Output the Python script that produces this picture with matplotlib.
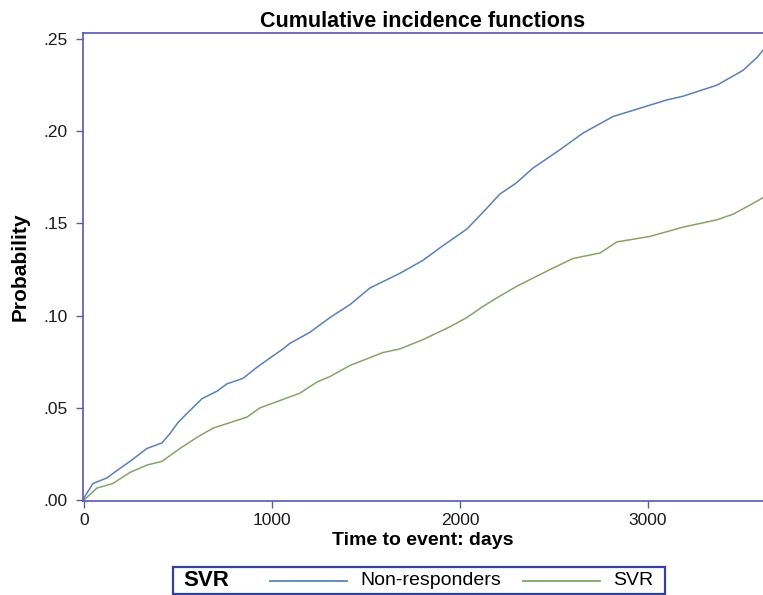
import matplotlib
matplotlib.use('Agg')
import matplotlib.pyplot as plt
from matplotlib.patches import Rectangle
from matplotlib.lines import Line2D

plt.rcParams['font.family'] = ['Liberation Sans', 'DejaVu Sans']

# ============================================
# DATA
# ============================================

nonresp_t = [0, 5, 48, 122, 175, 245, 335, 415, 457, 500, 548, 628, 707, 760,
             846, 920, 989, 1059, 1096, 1202, 1309, 1415, 1521, 1681, 1803,
             1910, 2037, 2122, 2213, 2300, 2388, 2532, 2654, 2814, 2973, 3100,
             3186, 3367, 3505, 3580, 3612]
nonresp_p = [0, 0.002, 0.009, 0.012, 0.016, 0.021, 0.028, 0.031, 0.036, 0.042,
             0.047, 0.055, 0.059, 0.063, 0.066, 0.072, 0.077, 0.082, 0.085,
             0.091, 0.099, 0.106, 0.115, 0.123, 0.130, 0.138, 0.147, 0.156,
             0.166, 0.172, 0.180, 0.190, 0.199, 0.208, 0.213, 0.217, 0.219,
             0.225, 0.233, 0.240, 0.244]

svr_t = [0, 69, 154, 245, 335, 415, 511, 601, 686, 777, 867, 936, 1043, 1149,
         1239, 1309, 1415, 1590, 1681, 1803, 1947, 2037, 2122, 2202, 2303,
         2479, 2601, 2745, 2835, 3011, 3186, 3367, 3452, 3543, 3612]
svr_p = [0, 0.0065, 0.009, 0.015, 0.019, 0.021, 0.028, 0.034, 0.039, 0.042,
         0.045, 0.050, 0.054, 0.058, 0.064, 0.067, 0.073, 0.080, 0.082, 0.087,
         0.094, 0.099, 0.105, 0.110, 0.116, 0.125, 0.131, 0.134, 0.140, 0.143,
         0.148, 0.152, 0.155, 0.160, 0.164]

x_ticks = [0, 1000, 2000, 3000]
y_ticks = [0, 0.05, 0.10, 0.15, 0.20, 0.25]
y_ticklabels = ['.00', '.05', '.10', '.15', '.20', '.25']

# ============================================
# GRAFIC
# ============================================

spine_col = '#5559b0'
blue = '#5a80b8'
green = '#86a468'

fig = plt.figure(figsize=(7.63, 5.95), dpi=100)
ax = fig.add_axes([83 / 763, 1 - 501 / 595, 1 - 83 / 763, (501 - 33) / 595])

ax.plot(nonresp_t, nonresp_p, color=blue, linewidth=1.1)
ax.plot(svr_t, svr_p, color=green, linewidth=1.1)

ax.set_xlim(-5, 3612)
ax.set_ylim(-0.0005, 0.2533)
ax.set_xticks(x_ticks)
ax.set_yticks(y_ticks)
ax.set_yticklabels(y_ticklabels)

for side in ['left', 'bottom', 'top']:
    ax.spines[side].set_color(spine_col)
    ax.spines[side].set_linewidth(1.2)
ax.spines['right'].set_visible(False)
ax.tick_params(colors=spine_col, labelcolor='#1a1a1a', labelsize=12.5,
               length=5, width=1.0, direction='out')
ax.tick_params(axis='y', pad=6)

ax.set_title('Cumulative incidence functions', fontsize=15.5,
             fontweight='bold', pad=4)
ax.set_xlabel('Time to event: days', fontsize=14, fontweight='bold',
              labelpad=3)
ax.set_ylabel('Probability', fontsize=15, fontweight='bold', labelpad=10)

# legend box underneath
def fx(px):
    return px / 763

def fy(py):
    return 1 - py / 595

fig.patches.append(Rectangle((fx(173), fy(594)), fx(665) - fx(173),
                             fy(567) - fy(594), transform=fig.transFigure,
                             fill=False, edgecolor='#3440a0', linewidth=1.6))
ymid = fy(580.5)
fig.text(fx(183), ymid, 'SVR', fontsize=16, fontweight='bold',
         va='center', ha='left')
fig.add_artist(Line2D([fx(270), fx(347)], [ymid, ymid], color=blue,
                      linewidth=1.3, transform=fig.transFigure))
fig.text(fx(360), ymid, 'Non-responders', fontsize=14, va='center', ha='left')
fig.add_artist(Line2D([fx(523), fx(600)], [ymid, ymid], color=green,
                      linewidth=1.3, transform=fig.transFigure))
fig.text(fx(613), ymid, 'SVR', fontsize=14, va='center', ha='left')

plt.savefig('out.png', dpi=100)
